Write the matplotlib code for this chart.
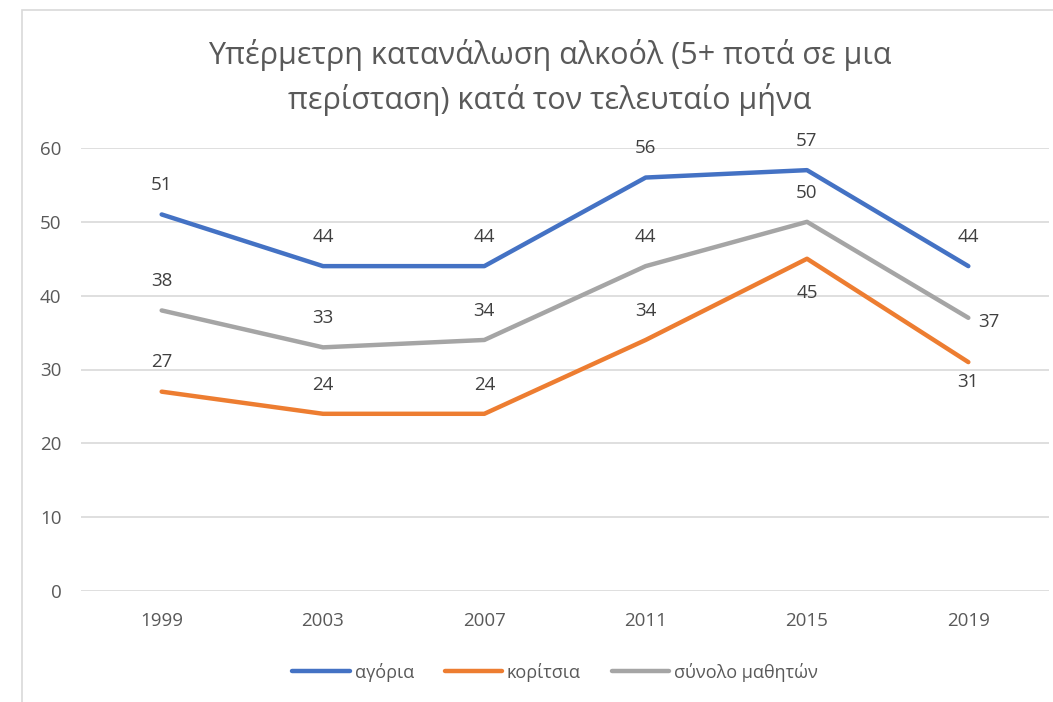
import numpy as np
import matplotlib.pyplot as plt
from matplotlib.patches import Rectangle

plt.rcParams['font.family'] = ['Open Sans', 'DejaVu Sans']

# Δεδομένα
years = ['1999', '2003', '2007', '2011', '2015', '2019']
agoria = [51, 44, 44, 56, 57, 44]
koritsia = [27, 24, 24, 34, 45, 31]
synolo = [38, 33, 34, 44, 50, 37]

names = ['αγόρια', 'κορίτσια', 'σύνολο μαθητών']
colors = ['#4472C4', '#ED7D31', '#A5A5A5']

# θέση ετικετών: 'a' = πάνω, 'b' = κάτω, 'bb' = πιο κάτω, 'r' = δεξιά
pos_agoria = ['a', 'a', 'a', 'a', 'a', 'a']
pos_koritsia = ['a', 'a', 'a', 'a', 'bb', 'b']
pos_synolo = ['a', 'a', 'a', 'a', 'a', 'r']

offsets = {'a': (0, 21), 'b': (0, -14), 'bb': (0, -25), 'r': (15, -3)}

W, H = 1053, 702
fig = plt.figure(figsize=(W / 100, H / 100), dpi=100)
fig.patches.append(Rectangle((22 / W, -0.1), 1.2, 1 - 10 / H + 0.1,
                             transform=fig.transFigure, fill=False,
                             edgecolor='#D9D9D9', linewidth=1.2))

ax = fig.add_axes([81 / W, 1 - 591 / H, (1049 - 81) / W, (591 - 148) / H])
x = np.arange(len(years))

series = [agoria, koritsia, synolo]
positions = [pos_agoria, pos_koritsia, pos_synolo]
for vals, c, n in zip(series, colors, names):
    ax.plot(x, vals, color=c, linewidth=3.2, label=n, solid_capstyle='round',
            solid_joinstyle='round')

for vals, ps in zip(series, positions):
    for xi, v, p in zip(x, vals, ps):
        ax.annotate(str(v), (xi, v), xytext=offsets[p], textcoords='offset points',
                    ha='center', va='center', fontsize=13.5, color='#404040')

ax.set_xlim(-0.5, 5.5)
ax.set_ylim(0, 60)
ax.set_xticks(x)
ax.set_xticklabels(years)
ax.set_yticks(range(0, 61, 10))
ax.tick_params(length=0, labelsize=13.5, labelcolor='#595959')
ax.tick_params(axis='x', pad=15)
ax.tick_params(axis='y', pad=14)
ax.grid(axis='y', color='#D9D9D9', linewidth=1.2)
ax.set_axisbelow(True)
for s in ax.spines.values():
    s.set_visible(False)

fig.text(550 / W, 1 - 55 / H, 'Υπέρμετρη κατανάλωση αλκοόλ (5+ ποτά σε μια',
         ha='center', va='center', fontsize=22, color='#595959')
fig.text(550 / W, 1 - 100 / H, 'περίσταση) κατά τον τελευταίο μήνα',
         ha='center', va='center', fontsize=22, color='#595959')

fig.legend(loc='center', bbox_to_anchor=(555 / W, 1 - 672 / H), ncol=3,
           frameon=False, fontsize=13, labelcolor='#595959', handlelength=3.2,
           handletextpad=0.25, columnspacing=1.7)

fig.savefig('out.png', dpi=100)
